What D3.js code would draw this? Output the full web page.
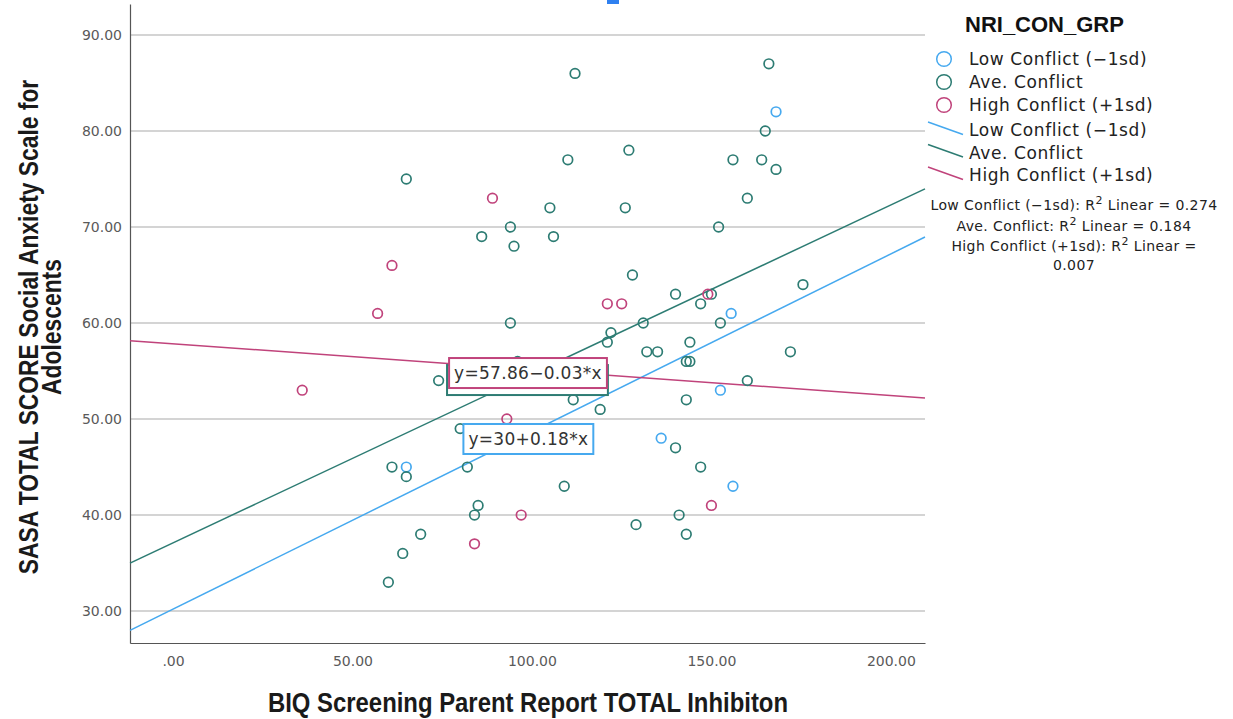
<!DOCTYPE html>
<html><head><meta charset="utf-8">
<script src="https://cdn.jsdelivr.net/npm/d3@7"></script>
<style>body{margin:0;background:#fff} svg{display:block}</style>
</head><body><svg id="c" width="1233" height="719"></svg>
<script>
// ---------- data ----------
const groups = ["Low Conflict (−1sd)", "Ave. Conflict", "High Conflict (+1sd)"];
const groupColors = ["#46a9ef", "#2d7c73", "#c0437b"];

const lowX = [168, 155.5, 152.5, 136, 156, 65];
const lowY = [82, 61, 53, 48, 43, 45];

const aveX = [65, 94, 86, 95, 94, 112, 166, 165, 127, 110, 156, 164, 168, 160, 105, 126, 152, 106, 128, 140, 147, 150, 175.5, 131, 152.5, 122, 121, 132, 135, 144, 143, 144, 172, 160, 143, 111.5, 119, 74, 96, 95, 80, 61, 65, 82, 85, 84, 69, 64, 60, 140, 147, 109, 141, 129, 143];
const aveY = [75, 70, 69, 68, 60, 86, 87, 80, 78, 77, 77, 77, 76, 73, 72, 72, 70, 69, 65, 63, 62, 63, 64, 60, 60, 59, 58, 57, 57, 58, 56, 56, 57, 54, 52, 52, 51, 54, 56, 53, 49, 45, 44, 45, 41, 40, 38, 36, 33, 47, 45, 43, 40, 39, 38];

const highX = [89, 61, 57, 121, 125, 149, 36, 93, 150, 97, 84];
const highY = [73, 66, 61, 62, 62, 63, 53, 50, 41, 40, 37];

const fitIntercept = [30.2, 37.1, 57.84];
const fitSlope = [0.185, 0.176, -0.027];

// equation labels; the Ave. Conflict label sits behind the High Conflict one (its text is hidden)
const eqTexts = ["y=30+0.18*x", "", "y=57.86−0.03*x"];
const eqAnchorX = [99.0, 98.75, 98.9];
const eqAnchorY = [47.92, 54.06, 54.79];

const r2Lines = [
  ["Low Conflict (−1sd): R", "2", " Linear = 0.274"],
  ["Ave. Conflict: R", "2", " Linear = 0.184"],
  ["High Conflict (+1sd): R", "2", " Linear ="],
  ["0.007", "", ""]
];

const xTicks = [0, 50, 100, 150, 200];
const yTicks = [30, 40, 50, 60, 70, 80, 90];
const xDomain = [-11.98, 209.5];
const yDomain = [26.67, 93.23];

const xTitle = "BIQ Screening Parent Report TOTAL Inhibiton";
const yTitleLines = ["SASA TOTAL SCORE Social Anxiety Scale for", "Adolescents"];
const legendTitle = "NRI_CON_GRP";

// ---------- chart ----------
const svg = d3.select("#c");
const L = 130, R = 925, T = 4, B = 643;
const x = d3.scaleLinear().domain(xDomain).range([L, R]);
const y = d3.scaleLinear().domain(yDomain).range([B, T]);
const fmt = v => v === 0 ? ".00" : d3.format(".2f")(v);

// gridlines
svg.append("g").selectAll("line").data(yTicks).join("line")
  .attr("x1", L).attr("x2", R)
  .attr("y1", d => y(d)).attr("y2", d => y(d))
  .attr("stroke", "#c6c6c6").attr("stroke-width", 1.4);

// axes
const gy = svg.append("g").attr("transform", `translate(${L},0)`)
  .call(d3.axisLeft(y).tickValues(yTicks).tickSize(0).tickSizeOuter(0).tickPadding(8).tickFormat(fmt));
const gx = svg.append("g").attr("transform", `translate(0,${B})`)
  .call(d3.axisBottom(x).tickValues(xTicks).tickSize(0).tickSizeOuter(0).tickPadding(13).tickFormat(fmt));
[gx, gy].forEach(g => {
  g.select(".domain").attr("stroke", "#555").attr("stroke-width", 1.2);
  g.selectAll("text").attr("font-family", "DejaVu Sans, sans-serif").attr("font-size", 14).attr("fill", "#5a5a5a");
});

// regression lines
const fits = groups.map((g, i) => ({i, pts: xDomain.map(v => [v, fitIntercept[i] + fitSlope[i] * v])}));
svg.append("g").selectAll("path").data(fits).join("path")
  .attr("d", d => d3.line().x(p => x(p[0])).y(p => y(p[1]))(d.pts))
  .attr("fill", "none").attr("stroke", d => groupColors[d.i]).attr("stroke-width", 1.5);

// points
const series = [[lowX, lowY], [aveX, aveY], [highX, highY]];
series.forEach(([xs, ys], gi) => {
  svg.append("g").selectAll("circle").data(xs.map((v, k) => [v, ys[k]])).join("circle")
    .attr("cx", d => x(d[0])).attr("cy", d => y(d[1])).attr("r", 4.8)
    .attr("fill", "none").attr("stroke", groupColors[gi]).attr("stroke-width", 1.7);
});

// equation labels (drawn teal, pink, blue)
let lastW = 156;
[2, 1, 0].forEach(i => {
  const g = svg.append("g");
  const rect = g.append("rect");
  let w;
  if (eqTexts[i]) {
    const t = g.append("text").text(eqTexts[i])
      .attr("x", x(eqAnchorX[i])).attr("y", y(eqAnchorY[i]) + 6)
      .attr("text-anchor", "middle")
      .attr("font-family", "DejaVu Sans, sans-serif").attr("font-size", 17)
      .attr("letter-spacing", 0.3).attr("fill", "#333");
    w = t.node().getBBox().width + 10;
    lastW = w;
  } else {
    w = lastW + 3;
  }
  const h = 30;
  rect.attr("x", x(eqAnchorX[i]) - w / 2).attr("y", y(eqAnchorY[i]) - h / 2)
    .attr("width", w).attr("height", h)
    .attr("fill", "#fff").attr("stroke", groupColors[i]).attr("stroke-width", 2);
  g.attr("data-order", i);
});
// stacking: teal label below pink label
svg.selectAll("g[data-order='1']").lower();
svg.selectAll("g[data-order='1']").each(function () { this.parentNode.insertBefore(this, svg.select("g[data-order='2']").node()); });

// axis titles
svg.append("text").text(xTitle)
  .attr("transform", "translate(528,712) scale(0.853,1)")
  .attr("text-anchor", "middle")
  .attr("font-family", "Liberation Sans, Arial, sans-serif")
  .attr("font-weight", "bold").attr("font-size", 28).attr("fill", "#1a1a1a");
const yt = svg.append("text").attr("transform", `translate(0,327) rotate(-90) scale(0.846,1)`)
  .attr("text-anchor", "middle")
  .attr("font-family", "Liberation Sans, Arial, sans-serif")
  .attr("font-weight", "bold").attr("font-size", 27).attr("fill", "#1a1a1a");
yTitleLines.forEach((s, k) => yt.append("tspan").attr("x", 0).attr("y", 38 + k * 23).text(s));

// legend
const lg = svg.append("g").attr("font-family", "DejaVu Sans, sans-serif");
lg.append("text").text(legendTitle).attr("x", 965).attr("y", 32)
  .attr("font-family", "Liberation Sans, Arial, sans-serif")
  .attr("font-weight", "bold").attr("font-size", 22).attr("fill", "#111");
groups.forEach((g, i) => {
  const cy = 59 + i * 23;
  lg.append("circle").attr("cx", 944).attr("cy", cy).attr("r", 7.3)
    .attr("fill", "none").attr("stroke", groupColors[i]).attr("stroke-width", 1.5);
  lg.append("text").text(g).attr("x", 969).attr("y", cy + 6)
    .attr("font-size", 17).attr("letter-spacing", 0.6).attr("fill", "#222");
});
groups.forEach((g, i) => {
  const cy = 129 + i * 22.5;
  lg.append("line").attr("x1", 928).attr("y1", cy - 7).attr("x2", 963).attr("y2", cy + 5.5)
    .attr("stroke", groupColors[i]).attr("stroke-width", 1.5);
  lg.append("text").text(g).attr("x", 969).attr("y", cy + 7)
    .attr("font-size", 17).attr("letter-spacing", 0.6).attr("fill", "#222");
});
const r2Y = [205, 226, 246, 265];
r2Lines.forEach((parts, k) => {
  const t = lg.append("text").attr("x", 1074).attr("y", r2Y[k] + 5)
    .attr("text-anchor", "middle").attr("font-size", 14).attr("letter-spacing", 0.4).attr("fill", "#222");
  t.append("tspan").text(parts[0]);
  if (parts[1]) t.append("tspan").text(parts[1]).attr("font-size", 11).attr("dy", -6);
  if (parts[2]) t.append("tspan").text(parts[2]).attr("dy", parts[1] ? 6 : 0);
});

// small selection marker at top
svg.append("rect").attr("x", 607).attr("y", 0).attr("width", 12).attr("height", 4).attr("fill", "#2f80f0");
</script></body></html>
